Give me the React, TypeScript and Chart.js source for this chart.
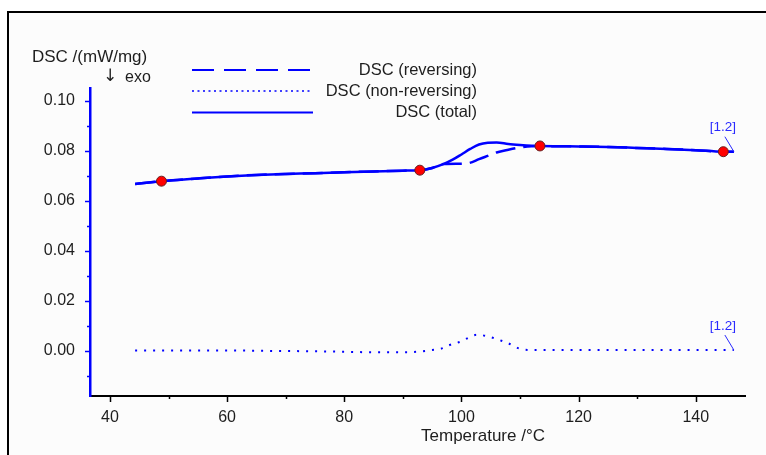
import React, { useEffect, useRef } from "react";
import { Chart, registerables } from "chart.js";

Chart.register(...registerables);

const W = 766;
const H = 455;

// ---------- data ----------
const totalTemps = [44.3, 48.8, 55, 60, 65, 70, 75, 80, 85, 90, 92.9, 95, 97, 98.5, 100, 101.5, 103, 104.5, 106, 108, 110, 112, 113.4, 116, 120, 125, 130, 135, 140, 144.7, 146.5];
const totalValues = [0.0668, 0.0679, 0.069, 0.0698, 0.0704, 0.0708, 0.0711, 0.0715, 0.0718, 0.0721, 0.0723, 0.0732, 0.0748, 0.0765, 0.0786, 0.0808, 0.0826, 0.0833, 0.0834, 0.0828, 0.0824, 0.0821, 0.082, 0.0819, 0.0818, 0.0816, 0.0812, 0.0808, 0.0803, 0.0797, 0.0797];

const reversingTemps = [44.3, 48.8, 55, 60, 65, 70, 75, 80, 85, 90, 92.9, 95, 97, 100, 101.4, 103, 104.8, 106, 108, 110, 112, 113.4, 116, 120, 125, 130, 135, 140, 144.7, 146.5];
const reversingValues = [0.0668, 0.0679, 0.069, 0.0698, 0.0704, 0.0708, 0.0711, 0.0715, 0.0718, 0.0721, 0.0723, 0.0732, 0.0748, 0.0749, 0.0752, 0.0767, 0.0783, 0.0794, 0.0805, 0.0814, 0.0819, 0.082, 0.0819, 0.0818, 0.0816, 0.0812, 0.0808, 0.0803, 0.0797, 0.0797];

const nonRevTemps = [44.3, 50, 60, 70, 75, 80, 85, 90, 93, 95, 96.5, 98, 100, 101, 102.6, 104.3, 106.6, 108, 109, 110, 111.7, 115, 120, 130, 140, 146.5];
const nonRevValues = [0.0001, 0.0001, 0.0001, -0.0001, -0.0002, -0.0004, -0.0006, -0.0006, -0.0003, 0.0003, 0.0008, 0.0023, 0.0038, 0.005, 0.0064, 0.0059, 0.0042, 0.003, 0.0018, 0.0008, 0.0003, 0.0003, 0.0003, 0.0003, 0.0003, 0.0003];

const markerTemps = [48.8, 92.9, 113.4, 144.7];
const markerValues = [0.0679, 0.0723, 0.082, 0.0797];

const xTicks = [40, 50, 60, 70, 80, 90, 100, 110, 120, 130, 140];
const xLabels = [40, 60, 80, 100, 120, 140];
const yTicks = [-0.01, 0, 0.01, 0.02, 0.03, 0.04, 0.05, 0.06, 0.07, 0.08, 0.09, 0.1];
const yLabels = [0, 0.02, 0.04, 0.06, 0.08, 0.1];

const X_MIN = 36.6;
const X_MAX = 148.4;
const Y_MIN = -0.0181;
const Y_MAX = 0.1052;

const legendLabels = ["DSC (reversing)", "DSC (non-reversing)", "DSC (total)"];
const yTitle = "DSC /(mW/mg)";
const exoArrow = "\u2193";
const exoLabel = "exo";
const xTitle = "Temperature /\u00B0C";
const segmentLabel = "[1.2]";

const FONT = "'Liberation Sans', Arial, 'DejaVu Sans', sans-serif";
const TEXT = "#1e1e1e";
const BLUE = "#0000ff";

const toPts = (xs: number[], ys: number[]) => xs.map((x, i) => ({ x, y: ys[i] }));
const isIn = (arr: number[], v: number) => arr.some((a) => Math.abs(a - v) < 1e-9);

const decor = {
  id: "decor",
  beforeDraw(chart: any) {
    const ctx = chart.ctx as CanvasRenderingContext2D;
    ctx.save();
    ctx.fillStyle = "#ffffff";
    ctx.fillRect(0, 0, W, H);
    ctx.fillStyle = "#fcfcfc";
    ctx.fillRect(8, 12, W - 8, H - 12);
    ctx.strokeStyle = "#000";
    ctx.lineWidth = 2;
    ctx.beginPath();
    ctx.moveTo(8, H);
    ctx.lineTo(8, 12);
    ctx.lineTo(W, 12);
    ctx.stroke();
    ctx.restore();
  },
  afterDraw(chart: any) {
    const ctx = chart.ctx as CanvasRenderingContext2D;
    const xs = chart.scales.x;
    const ys = chart.scales.y;
    const area = chart.chartArea;
    ctx.save();

    // tick marks
    ctx.lineWidth = 1.5;
    ctx.strokeStyle = "#000";
    xTicks.forEach((t) => {
      const px = Math.round(xs.getPixelForValue(t)) + 0.5;
      const len = isIn(xLabels, t) ? 6 : 3;
      ctx.beginPath();
      ctx.moveTo(px, area.bottom);
      ctx.lineTo(px, area.bottom + len);
      ctx.stroke();
    });
    ctx.strokeStyle = BLUE;
    yTicks.forEach((t) => {
      const py = Math.round(ys.getPixelForValue(t)) + 0.5;
      const len = isIn(yLabels, t) ? 5 : 3;
      ctx.beginPath();
      ctx.moveTo(area.left - len, py);
      ctx.lineTo(area.left, py);
      ctx.stroke();
    });

    // titles
    ctx.fillStyle = TEXT;
    ctx.textBaseline = "middle";
    ctx.textAlign = "left";
    ctx.font = `17px ${FONT}`;
    ctx.fillText(yTitle, 32, 57);
    ctx.font = `17px 'DejaVu Sans', sans-serif`;
    ctx.textAlign = "center";
    ctx.fillText(exoArrow, 110, 77);
    ctx.font = `16px ${FONT}`;
    ctx.textAlign = "left";
    ctx.fillText(exoLabel, 125, 78);
    ctx.font = `17px ${FONT}`;
    ctx.textAlign = "center";
    ctx.fillText(xTitle, 483, 436);

    // legend
    const lx0 = 192;
    const lx1 = 313;
    const rows = [70, 91, 112.5];
    const dashes = [[22, 10], [2, 3.5], []];
    ctx.strokeStyle = BLUE;
    rows.forEach((y, i) => {
      ctx.lineWidth = i === 1 ? 1.5 : 2;
      ctx.setLineDash(dashes[i]);
      ctx.beginPath();
      ctx.moveTo(lx0, y);
      ctx.lineTo(lx1, y);
      ctx.stroke();
    });
    ctx.setLineDash([]);
    ctx.textAlign = "right";
    ctx.fillStyle = TEXT;
    ctx.font = `16.5px ${FONT}`;
    rows.forEach((y, i) => ctx.fillText(legendLabels[i], 477, y));

    // segment annotations at curve ends
    const ends = [
      [totalTemps[totalTemps.length - 1], totalValues[totalValues.length - 1]],
      [nonRevTemps[nonRevTemps.length - 1], nonRevValues[nonRevValues.length - 1]],
    ];
    ctx.strokeStyle = "#2a2aff";
    ctx.fillStyle = "#2a2aff";
    ctx.lineWidth = 1;
    ctx.font = `13.5px ${FONT}`;
    ctx.textAlign = "center";
    ends.forEach(([t, v]) => {
      const px = xs.getPixelForValue(t);
      const py = ys.getPixelForValue(v);
      ctx.beginPath();
      ctx.moveTo(px - 9, py - 15);
      ctx.lineTo(px, py);
      ctx.stroke();
      ctx.fillText(segmentLabel, px - 11, py - 24);
    });

    ctx.restore();
  },
};

export default function App() {
  const ref = useRef<HTMLCanvasElement | null>(null);

  useEffect(() => {
    if (!ref.current) return;
    const chart = new Chart(ref.current, {
      type: "line",
      data: {
        datasets: [
          {
            label: "markers",
            data: toPts(markerTemps, markerValues),
            showLine: false,
            pointRadius: 5,
            pointBackgroundColor: "#ff0000",
            pointBorderColor: "#6a2020",
            pointBorderWidth: 1,
          },
          {
            label: legendLabels[0],
            data: toPts(reversingTemps, reversingValues),
            borderColor: BLUE,
            borderWidth: 2.5,
            borderDash: [20, 8],
            pointRadius: 0,
            cubicInterpolationMode: "monotone",
          },
          {
            label: legendLabels[2],
            data: toPts(totalTemps, totalValues),
            borderColor: BLUE,
            borderWidth: 2.5,
            pointRadius: 0,
            cubicInterpolationMode: "monotone",
          },
          {
            label: legendLabels[1],
            data: toPts(nonRevTemps, nonRevValues),
            borderColor: BLUE,
            borderWidth: 2,
            borderDash: [2, 7],
            pointRadius: 0,
            cubicInterpolationMode: "monotone",
          },
        ],
      },
      options: {
        animation: false,
        responsive: false,
        devicePixelRatio: 1,
        layout: { padding: { left: 0, top: 88, right: W - 745, bottom: 0 } },
        plugins: { legend: { display: false }, tooltip: { enabled: false } },
        scales: {
          x: {
            type: "linear",
            min: X_MIN,
            max: X_MAX,
            afterBuildTicks: (s: any) => {
              s.ticks = xTicks.map((v) => ({ value: v }));
            },
            afterFit: (s: any) => {
              s.height = H - 396;
            },
            grid: { display: false },
            border: { display: true, color: "#000", width: 2 },
            ticks: {
              autoSkip: false,
              maxRotation: 0,
              padding: 4,
              color: TEXT,
              font: { size: 16, family: FONT },
              callback: (v: any) => (isIn(xLabels, Number(v)) ? String(v) : ""),
            },
          },
          y: {
            type: "linear",
            min: Y_MIN,
            max: Y_MAX,
            afterBuildTicks: (s: any) => {
              s.ticks = yTicks.map((v) => ({ value: v }));
            },
            afterFit: (s: any) => {
              s.width = 90;
            },
            grid: { display: false },
            border: { display: true, color: BLUE, width: 2.5 },
            ticks: {
              autoSkip: false,
              padding: 7,
              color: TEXT,
              font: { size: 16, family: FONT },
              callback: (v: any) => (isIn(yLabels, Number(v)) ? Number(v).toFixed(2) : ""),
            },
          },
        },
      },
      plugins: [decor],
    });
    return () => chart.destroy();
  }, []);

  return (
    <div style={{ position: "absolute", left: 0, top: 0, width: W, height: H }}>
      <canvas ref={ref} width={W} height={H} style={{ width: W, height: H, display: "block" }} />
    </div>
  );
}
